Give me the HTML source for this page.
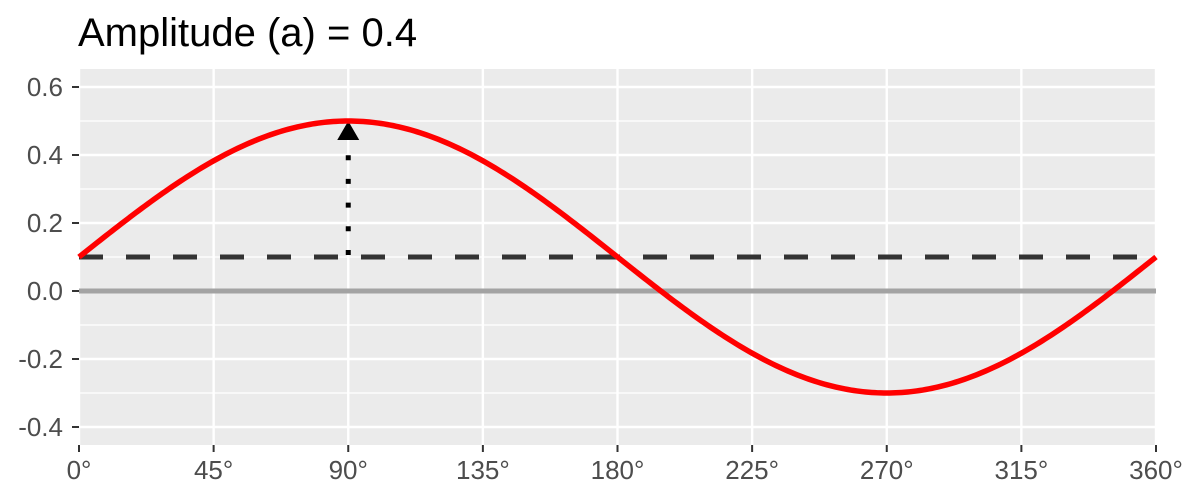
<!DOCTYPE html>
<html><head><meta charset="utf-8"><style>
body{margin:0;background:#fff;}
svg{display:block;font-family:"Liberation Sans",sans-serif;}
</style></head><body>
<svg id="chart" width="1200" height="496">
<text x="78" y="46" font-size="40" fill="#000">Amplitude (a) = 0.4</text>
<rect x="79" y="69" width="1077" height="376" fill="#EBEBEB"/>
<g id="grid"></g><g id="axes"></g><g id="marks"></g>
</svg>
<script>
const xTicks=[0,45,90,135,180,225,270,315,360];
const yTicks=[-0.4,-0.2,0.0,0.2,0.4,0.6];
const amplitude=[0.4];
const offset=[0.1];
const X0=79,X1=1156,Y0=291,YS=340;
const sx=d=>X0+d*(X1-X0)/360;
const sy=v=>Y0-v*YS;
const NS="http://www.w3.org/2000/svg";
function mk(tag,attrs,parent){const e=document.createElementNS(NS,tag);for(const k in attrs)e.setAttribute(k,attrs[k]);parent.appendChild(e);return e;}
const grid=document.getElementById('grid'),axes=document.getElementById('axes'),marks=document.getElementById('marks');
for(let i=0;i<yTicks.length-1;i++){const m=(yTicks[i]+yTicks[i+1])/2;const l=mk('line',{x1:79,x2:1156,y1:sy(m),y2:sy(m),stroke:'#fff','stroke-width':1.2},grid);

}
yTicks.forEach(v=>{const l=mk('line',{x1:79,x2:1156,y1:sy(v),y2:sy(v),stroke:'#fff','stroke-width':2.4},grid);


const t=mk('line',{x1:72,x2:79,y1:sy(v),y2:sy(v),stroke:'#333','stroke-width':2},axes);


const tx=mk('text',{x:63,y:sy(v)+9,'text-anchor':'end','font-size':26,fill:'#4D4D4D'},axes);
tx.textContent=v.toFixed(1);

});
xTicks.forEach(d=>{const l=mk('line',{x1:sx(d),x2:sx(d),y1:69,y2:445,stroke:'#fff','stroke-width':2.4},grid);


const t=mk('line',{x1:sx(d),x2:sx(d),y1:445,y2:452,stroke:'#333','stroke-width':2},axes);


const tx=mk('text',{x:sx(d),y:479,'text-anchor':'middle','font-size':26,fill:'#4D4D4D'},axes);
tx.textContent=d+'°';

});
const a=amplitude[0],b=offset[0];
const zl=mk('line',{x1:79,x2:1156,y1:sy(0),y2:sy(0),stroke:'#A3A3A3','stroke-width':5},marks);


const ml=mk('line',{x1:79,x2:1156,y1:sy(b),y2:sy(b),stroke:'#333','stroke-width':5,'stroke-dasharray':'24 23'},marks);


const al=mk('line',{x1:sx(90),x2:sx(90),y1:sy(b)-2,y2:sy(a+b)+22,stroke:'#000','stroke-width':5,'stroke-dasharray':'5 18.7'},marks);


const ah=mk('polygon',{points:`${sx(90)},${sy(a+b)} ${sx(90)-11},${sy(a+b)+19} ${sx(90)+11},${sy(a+b)+19}`,fill:'#000'},marks);


let d='';for(let i=0;i<=360;i++){d+=(i?'L':'M')+sx(i).toFixed(2)+','+sy(b+a*Math.sin(i*Math.PI/180)).toFixed(2);}
const c=mk('path',{d:d,fill:'none',stroke:'#FF0000','stroke-width':5.5},marks);


</script>
</body></html>
